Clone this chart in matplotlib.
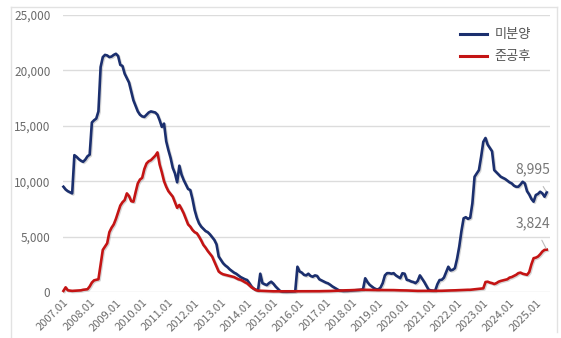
import matplotlib
matplotlib.use("Agg")
import matplotlib.pyplot as plt
import matplotlib.patheffects as pe
import matplotlib.transforms as mtransforms
from matplotlib.lines import Line2D

plt.rcParams['font.family'] = ['Noto Sans CJK KR', 'DejaVu Sans']

# Monthly series, 2007.01 - 2025.06 (one row per year)
unsold = [
    9500, 9250, 9100, 9000, 8900, 12350, 12200, 12000, 11850, 11750, 11950, 12250,
    12400, 15300, 15500, 15650, 16300, 20300, 21200, 21400, 21350, 21200, 21250, 21400,
    21500, 21300, 20500, 20400, 19700, 19300, 18900, 18100, 17300, 16800, 16300, 16000,
    15850, 15800, 16000, 16200, 16300, 16250, 16200, 16000, 15500, 14900, 15200, 13600,
    12800, 12100, 11200, 10700, 9900, 11400, 10600, 10100, 9700, 9300, 9200, 8400,
    7400, 6700, 6200, 5900, 5700, 5500, 5400, 5200, 4950, 4700, 4300, 3200,
    2900, 2600, 2400, 2250, 2050, 1900, 1750, 1650, 1500, 1350, 1250, 1150,
    1080, 800, 500, 300, 200, 170, 1650, 800, 700, 620, 800, 930,
    750, 500, 300, 100, 30, 20, 20, 20, 30, 40, 60, 2280,
    1850, 1750, 1550, 1500, 1650, 1450, 1380, 1500, 1450, 1150, 1050, 950,
    850, 780, 650, 500, 380, 250, 150, 120, 90, 90, 100, 120,
    130, 150, 160, 180, 200, 250, 1240, 900, 650, 500, 350, 250,
    240, 400, 800, 1500, 1700, 1700, 1650, 1700, 1500, 1380, 1250, 1690,
    1650, 1100, 1050, 950, 900, 800, 1000, 1500, 1200, 900, 550, 200,
    150, 120, 120, 700, 1080, 1100, 1300, 1800, 2280, 1950, 2000, 2150,
    3000, 4100, 5500, 6650, 6750, 6600, 6700, 8000, 10400, 10700, 11000, 12200,
    13550, 13900, 13300, 13000, 12700, 11000, 10800, 10600, 10400, 10300, 10200, 10050,
    9900, 9800, 9600, 9500, 9500, 9700, 9950, 9800, 9100, 8800, 8400, 8150,
    8750, 8850, 9050, 8900, 8600, 8995,
]

completed_unsold = [
    100, 420, 150, 120, 100, 110, 120, 130, 150, 200, 220, 250,
    500, 850, 1050, 1100, 1150, 2500, 3800, 4100, 4400, 5400, 5800, 6100,
    6600, 7200, 7800, 8100, 8300, 8900, 8650, 8200, 8150, 9000, 9800, 10150,
    10300, 11100, 11600, 11800, 11900, 12100, 12300, 12600, 11500, 10800, 10000, 9500,
    9100, 8850, 8600, 8100, 7600, 7850, 7500, 7100, 6600, 6100, 5900, 5600,
    5400, 5300, 5000, 4650, 4250, 4000, 3700, 3450, 3200, 2750, 2300, 1850,
    1700, 1600, 1550, 1500, 1450, 1400, 1350, 1250, 1150, 1100, 1000, 880,
    780, 600, 420, 300, 180, 120, 110, 100, 90, 80, 80, 70,
    60, 60, 50, 50, 50, 60, 60, 60, 60, 70, 70, 70,
    70, 70, 60, 60, 60, 60, 60, 60, 60, 70, 80, 80,
    80, 90, 90, 100, 100, 110, 120, 130, 140, 150, 150, 160,
    170, 180, 180, 190, 200, 200, 200, 190, 190, 180, 180, 180,
    180, 190, 190, 180, 180, 170, 170, 170, 160, 150, 150, 150,
    140, 140, 130, 120, 120, 110, 100, 100, 100, 90, 90, 90,
    90, 90, 100, 100, 110, 110, 120, 120, 130, 140, 140, 150,
    160, 160, 170, 180, 190, 200, 200, 220, 240, 260, 280, 300,
    330, 900, 930, 850, 800, 720, 800, 930, 1000, 1050, 1100, 1150,
    1300, 1350, 1450, 1550, 1700, 1750, 1650, 1600, 1550, 1800, 2500, 3050,
    3100, 3200, 3400, 3650, 3800, 3824,
]

tick_labels = ["2007.01", "2008.01", "2009.01", "2010.01", "2011.01", "2012.01",
               "2013.01", "2014.01", "2015.01", "2016.01", "2017.01", "2018.01",
               "2019.01", "2020.01", "2021.01", "2022.01", "2023.01", "2024.01",
               "2025.01"]
series_names = ["미분양", "준공후"]

NAVY = "#1b2f6e"
RED = "#c41414"
GRID = "#dcdcdc"
TEXT = "#6b6b6b"

months = list(range(len(unsold)))
tick_pos = [12 * i for i in range(len(tick_labels))]

fig = plt.figure(figsize=(5.61, 3.38), dpi=100)
fig.patch.set_facecolor("white")

# outer frame lines (left, top, right)
W, H = 561.0, 338.0
for xs, ys in [((11 / W, 11 / W), (0, 1 - 7 / H)),
               ((11 / W, 557 / W), (1 - 7 / H, 1 - 7 / H)),
               ((557 / W, 557 / W), (1 - 7 / H, 1 - 332 / H))]:
    fig.add_artist(Line2D(xs, ys, color="#e2e2e2", lw=1.0, transform=fig.transFigure))

ax = fig.add_axes([63 / W, 1 - 292 / H, (550 - 63) / W, (292 - 15) / H])
ax.set_facecolor("white")

shadow = [pe.SimpleLineShadow(offset=(0.8, -0.8), shadow_color="#888888", alpha=0.35),
          pe.Normal()]
ax.plot(months, unsold, color=NAVY, lw=1.9, solid_joinstyle="round",
        path_effects=shadow, clip_on=False, zorder=3)
ax.plot(months, completed_unsold, color=RED, lw=1.9, solid_joinstyle="round",
        path_effects=shadow, clip_on=False, zorder=3)

ax.set_xlim(-0.2, 222.5)
ax.set_ylim(0, 25000)
ax.set_yticks(range(0, 25001, 5000))
ax.set_yticklabels([f"{v:,}" for v in range(0, 25001, 5000)], fontsize=8.5, color=TEXT)
ax.set_xticks(tick_pos)
ax.set_xticklabels(tick_labels, fontsize=8.0, color=TEXT, rotation=45,
                   ha="right", va="top", rotation_mode="anchor")
shift = mtransforms.ScaledTranslation(3.0 / 72, 0, fig.dpi_scale_trans)
for lbl in ax.get_xticklabels():
    lbl.set_transform(lbl.get_transform() + shift)
ax.tick_params(axis="y", length=0, pad=9)
ax.tick_params(axis="x", length=0, pad=4)
ax.grid(axis="y", color=GRID, lw=1.0)
ax.set_axisbelow(True)
for s in ax.spines.values():
    s.set_visible(False)

# legend
handles = [Line2D([0], [0], color=NAVY, lw=2.2), Line2D([0], [0], color=RED, lw=2.2)]
ax.legend(handles, series_names, loc="upper right", bbox_to_anchor=(0.985, 0.995),
          frameon=False, fontsize=9.5, handlelength=2.0, handletextpad=0.6,
          labelspacing=0.7, labelcolor="#555555")

# end-value callouts
last = len(unsold) - 1
for vals, dy in [(unsold, 2050), (completed_unsold, 2400)]:
    v = vals[last]
    ax.annotate(f"{v:,}", xy=(last, v), xytext=(last - 6.3, v + dy),
                fontsize=10, color="#777777", ha="center", va="center",
                arrowprops=dict(arrowstyle="-", color="#bbbbbb", lw=0.8,
                                shrinkA=6, shrinkB=1),
                annotation_clip=False)

fig.savefig("out.png", dpi=100, facecolor="white")
